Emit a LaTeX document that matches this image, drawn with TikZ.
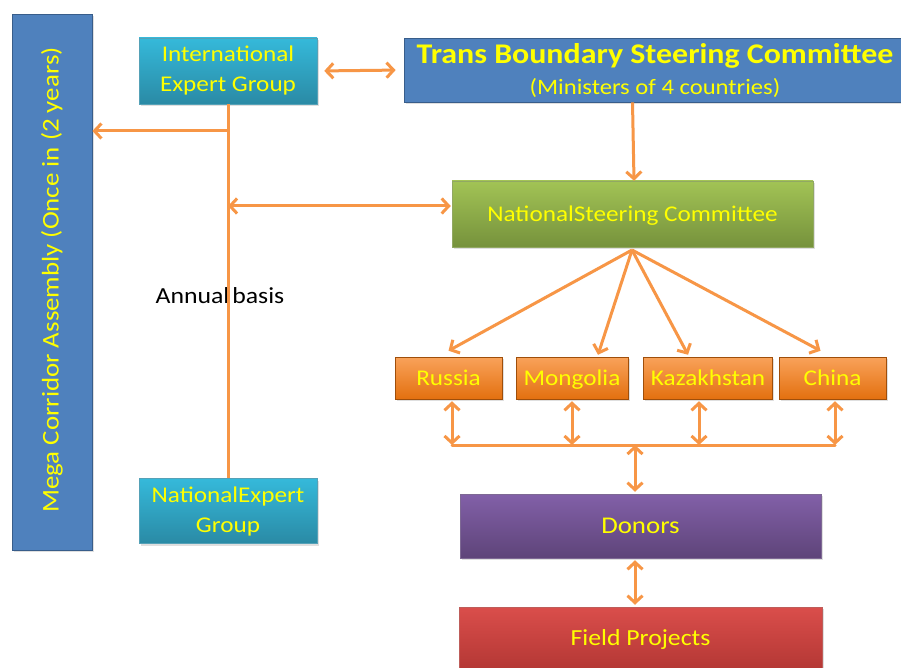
\documentclass[tikz,border=0pt]{standalone}
\usepackage{fontspec}
\setmainfont[FakeStretch=1.12]{Carlito}
\usetikzlibrary{arrows.meta,shadows,calc}
\definecolor{arrc}{HTML}{F79646}
\definecolor{txty}{HTML}{FFFF00}
\definecolor{blueF}{HTML}{4F81BD}
\definecolor{blueD}{HTML}{385D8A}
\definecolor{cyanT}{HTML}{35B9DA}
\definecolor{cyanB}{HTML}{2A8AA5}
\definecolor{greenT}{HTML}{A2C355}
\definecolor{greenB}{HTML}{76923C}
\definecolor{orT}{HTML}{F9A25A}
\definecolor{orB}{HTML}{E3700F}
\definecolor{purT}{HTML}{8260A8}
\definecolor{purB}{HTML}{5E4479}
\definecolor{redT}{HTML}{DA4E4B}
\definecolor{redB}{HTML}{AE3431}
\tikzset{
  box/.style={rectangle, inner sep=0pt, align=center, text=txty, font=\fontsize{22.5}{30}\selectfont,
    drop shadow={opacity=0.25, shadow xshift=1.5pt, shadow yshift=-2pt}},
  one/.style={text height=15pt, text depth=0pt},
  bluebox/.style={box, fill=blueF, draw=blueD, line width=0.8pt},
  cyanbox/.style={box, top color=cyanT, bottom color=cyanB, draw=cyanB!80!white, line width=0.5pt},
  greenbox/.style={box, one, top color=greenT, bottom color=greenB, draw=greenB!80!white, line width=0.5pt},
  orbox/.style={box, one, top color=orT, bottom color=orB, draw=orB!70!black, line width=0.5pt, font=\fontsize{22.5}{26}\selectfont},
  purbox/.style={box, one, top color=purT, bottom color=purB, draw=purB!80!white, line width=0.5pt, font=\fontsize{24}{26}\selectfont},
  redbox/.style={box, top color=redT, bottom color=redB, draw=redB!80!white, line width=0.5pt},
  conn/.style={draw=arrc, line width=3pt},
  arr/.style={conn, -{Straight Barb[length=7pt,width=15pt,line width=3pt]}},
  darr/.style={conn, {Straight Barb[length=7pt,width=15pt,line width=3pt]}-{Straight Barb[length=7pt,width=15pt,line width=3pt]}},
}
\begin{document}
\begin{tikzpicture}[x=1pt,y=-1pt]
\useasboundingbox (0,0) rectangle (901,668);
\fill[white] (0,0) rectangle (901,668);
% boxes
\node[bluebox, minimum width=80pt, minimum height=536pt] (mega) at (52,282) {};
\node[text=txty, rotate=90, font=\fontsize{24}{26}\selectfont] (megatxt) at (52,280) {Mega Corridor Assembly (Once in (2 years)};
\node[cyanbox, minimum width=178pt, minimum height=66pt] (ieg) at (228,71) {International\\Expert Group};
\node[bluebox, minimum width=499pt, minimum height=64pt] (tbsc) at (653.5,70) {};
\node[text=txty, font=\bfseries\fontsize{28.5}{30}\selectfont] (tbsct) at (655,56) {Trans Boundary Steering Committee};
\node[text=txty, font=\fontsize{22}{24}\selectfont] (tbscs) at (655,88) {(Ministers of 4 countries)};
\node[greenbox, minimum width=361pt, minimum height=66pt] (nsc) at (632.5,214) {NationalSteering Committee};
\node[cyanbox, minimum width=178pt, minimum height=65pt] (neg) at (228,511) {NationalExpert\\Group};
\node[font=\fontsize{23}{26}\selectfont] (annual) at (220,296) {\spaceskip=3pt\relax Annual basis};
\node[orbox, minimum width=107pt, minimum height=42pt] (rus) at (448.5,378) {Russia};
\node[orbox, minimum width=112pt, minimum height=42pt] (mon) at (572,378) {Mongolia};
\node[orbox, minimum width=129pt, minimum height=42pt] (kaz) at (708,378) {Kazakhstan};
\node[orbox, minimum width=107pt, minimum height=42pt] (chi) at (832.5,378) {China};
\node[purbox, minimum width=361pt, minimum height=64pt] (don) at (640.5,526) {Donors};
\node[redbox, minimum width=363pt, minimum height=72pt] (fp) at (640.5,643) {};
\node[text=txty, font=\fontsize{23}{26}\selectfont, text height=15pt, text depth=0pt] (fpt) at (640.5,638) {Field Projects};
% coordinates
\coordinate (j1) at (228,131);
\coordinate (j2) at (228,206);
\coordinate (nb) at (632,250);
\coordinate (bR) at (452,445);
\coordinate (bM) at (572,445);
\coordinate (bK) at (699,445);
\coordinate (bC) at (835,445);
\coordinate (bD) at (635,445);
% connectors
\draw[darr, shorten <=7pt, shorten >=8pt] (ieg.east) -- (tbsc.west);
\draw[arr] (nsc.north |- tbsc.south) -- ([xshift=1.5pt]nsc.north);
\draw[conn] (ieg.south) -- (neg.north);
\draw[arr] (j1) -- (mega.east |- j1);
\draw[darr] (j2) -- ([xshift=-1pt]nsc.west |- j2);
\draw[arr] (nb) -- ([yshift=6pt]rus.north);
\draw[arr] (nb) -- ([xshift=26pt,yshift=2pt]mon.north);
\draw[arr] (nb) -- ([xshift=-20pt,yshift=2pt]kaz.north);
\draw[arr] (nb) -- ([xshift=-12pt,yshift=6pt]chi.north);
\draw[conn, line cap=round] (bR) -- (bC);
\draw[darr, shorten <=2pt] (rus.south -| bR) -- (bR);
\draw[darr, shorten <=2pt] (mon.south -| bM) -- (bM);
\draw[darr, shorten <=2pt] (kaz.south -| bK) -- (bK);
\draw[darr, shorten <=2pt] (chi.south -| bC) -- (bC);
\draw[darr, shorten >=2pt] (bD) -- (don.north -| bD);
\draw[darr, shorten <=2pt, shorten >=2pt] (don.south -| bD) -- (fp.north -| bD);
\end{tikzpicture}
\end{document}
